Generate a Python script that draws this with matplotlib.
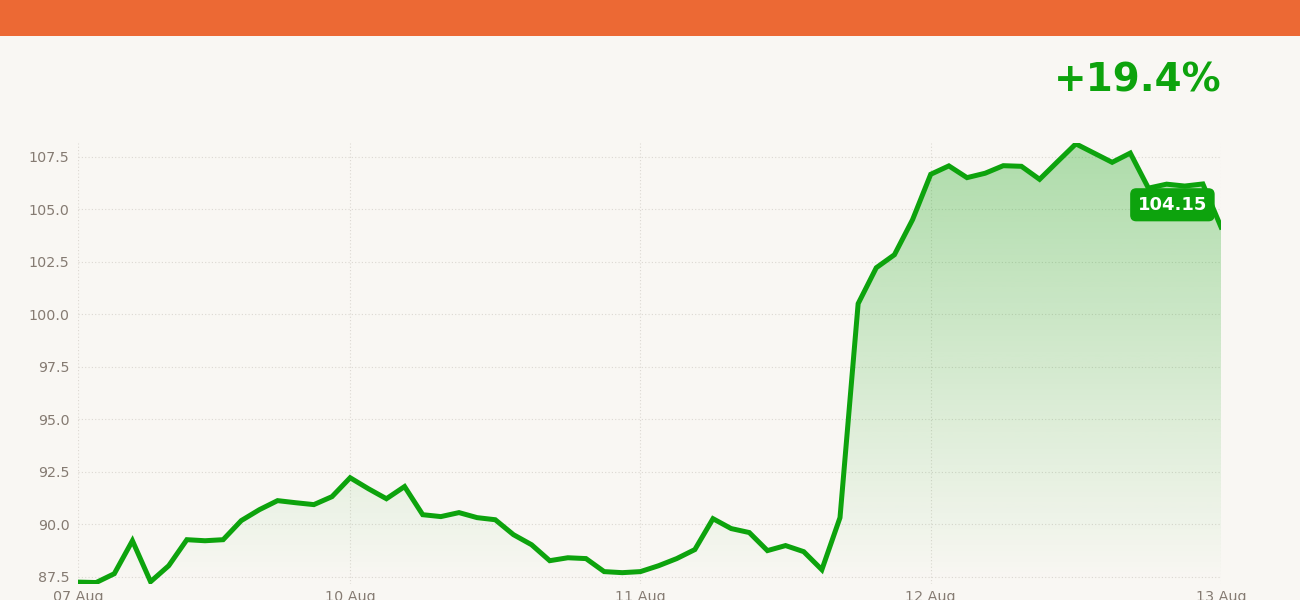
import matplotlib
matplotlib.use("Agg")
import matplotlib.pyplot as plt
import numpy as np
from matplotlib.patches import Rectangle, Polygon

# ---- data ----
prices = [87.24, 87.22, 87.64, 89.21, 87.26, 88.02, 89.26, 89.21, 89.26, 90.17,
          90.69, 91.12, 91.02, 90.93, 91.31, 92.21, 91.69, 91.21, 91.79, 90.45,
          90.36, 90.55, 90.31, 90.21, 89.50, 89.02, 88.26, 88.40, 88.36, 87.74,
          87.69, 87.74, 88.02, 88.36, 88.79, 90.26, 89.79, 89.60, 88.74, 88.98,
          88.69, 87.83, 90.31, 100.50, 102.21, 102.83, 104.50, 106.66, 107.06, 106.50,
          106.71, 107.07, 107.04, 106.42, 107.27, 108.11, 107.67, 107.23, 107.67, 106.00,
          106.19, 106.10, 106.20, 104.15]
tick_idx = [0, 15, 31, 47, 63]
tick_labels = ["07 Aug", "10 Aug", "11 Aug", "12 Aug", "13 Aug"]
y_ticks = [87.5, 90.0, 92.5, 95.0, 97.5, 100.0, 102.5, 105.0, 107.5]
change_label = "+19.4%"
last_label = "104.15"

BG = "#F9F7F3"
GREEN = "#0DA30D"
ORANGE = "#EC6934"
TXT = "#857B72"
GRID = "#DCD8D2"

fig = plt.figure(figsize=(13, 6), dpi=100, facecolor=BG)
fig.patches.append(Rectangle((0, 1 - 36 / 600), 1, 36 / 600, transform=fig.transFigure,
                             facecolor=ORANGE, edgecolor="none", zorder=0))

ax = fig.add_axes([78 / 1300, 16 / 600, (1221 - 78) / 1300, 441 / 600])
ax.set_facecolor(BG)

x = np.arange(len(prices))
y = np.array(prices)
ylo, yhi = 87.15, 108.15

# gradient fill under the curve
grad = np.zeros((256, 1, 4))
rgb = matplotlib.colors.to_rgb(GREEN)
grad[:, 0, 0:3] = rgb
grad[:, 0, 3] = np.linspace(0.0, 0.32, 256)
im = ax.imshow(grad, aspect="auto", origin="lower",
               extent=[0, len(prices) - 1, ylo, y.max()], zorder=1,
               interpolation="bilinear")
verts = np.vstack([[x[0], ylo], np.column_stack([x, y]), [x[-1], ylo]])
poly = Polygon(verts, closed=True, facecolor="none", edgecolor="none",
               transform=ax.transData)
ax.add_patch(poly)
im.set_clip_path(poly)
ax.set_xlim(0, len(prices) - 1)
ax.set_ylim(ylo, yhi)

ax.plot(x, y, color=GREEN, lw=3.6, zorder=3, solid_joinstyle="miter")

# grid & ticks
ax.set_xticks(tick_idx)
ax.set_xticklabels(tick_labels)
ax.set_yticks(y_ticks)
ax.set_yticklabels([f"{v:.1f}" for v in y_ticks])
ax.grid(True, color=GRID, linestyle=(0, (1, 2)), lw=0.8, zorder=0)
ax.set_axisbelow(True)
for s in ax.spines.values():
    s.set_visible(False)
ax.tick_params(axis="both", length=0, colors=TXT, labelsize=10.3)
ax.tick_params(axis="x", pad=4)
ax.tick_params(axis="y", pad=6)

# last value label
ax.annotate(last_label, xy=(x[-1], y[-1]), xytext=(-10, 16), textcoords="offset points",
            ha="right", va="center", color="white", fontsize=13, fontweight="bold",
            bbox=dict(boxstyle="round,pad=0.38,rounding_size=0.3", fc=GREEN, ec=GREEN),
            zorder=5, annotation_clip=False)

# change label
fig.text(1221 / 1300, 1 - 80 / 600, change_label, ha="right", va="center",
         color=GREEN, fontsize=28, fontweight="bold")

fig.savefig("out.png", dpi=100, facecolor=BG)
